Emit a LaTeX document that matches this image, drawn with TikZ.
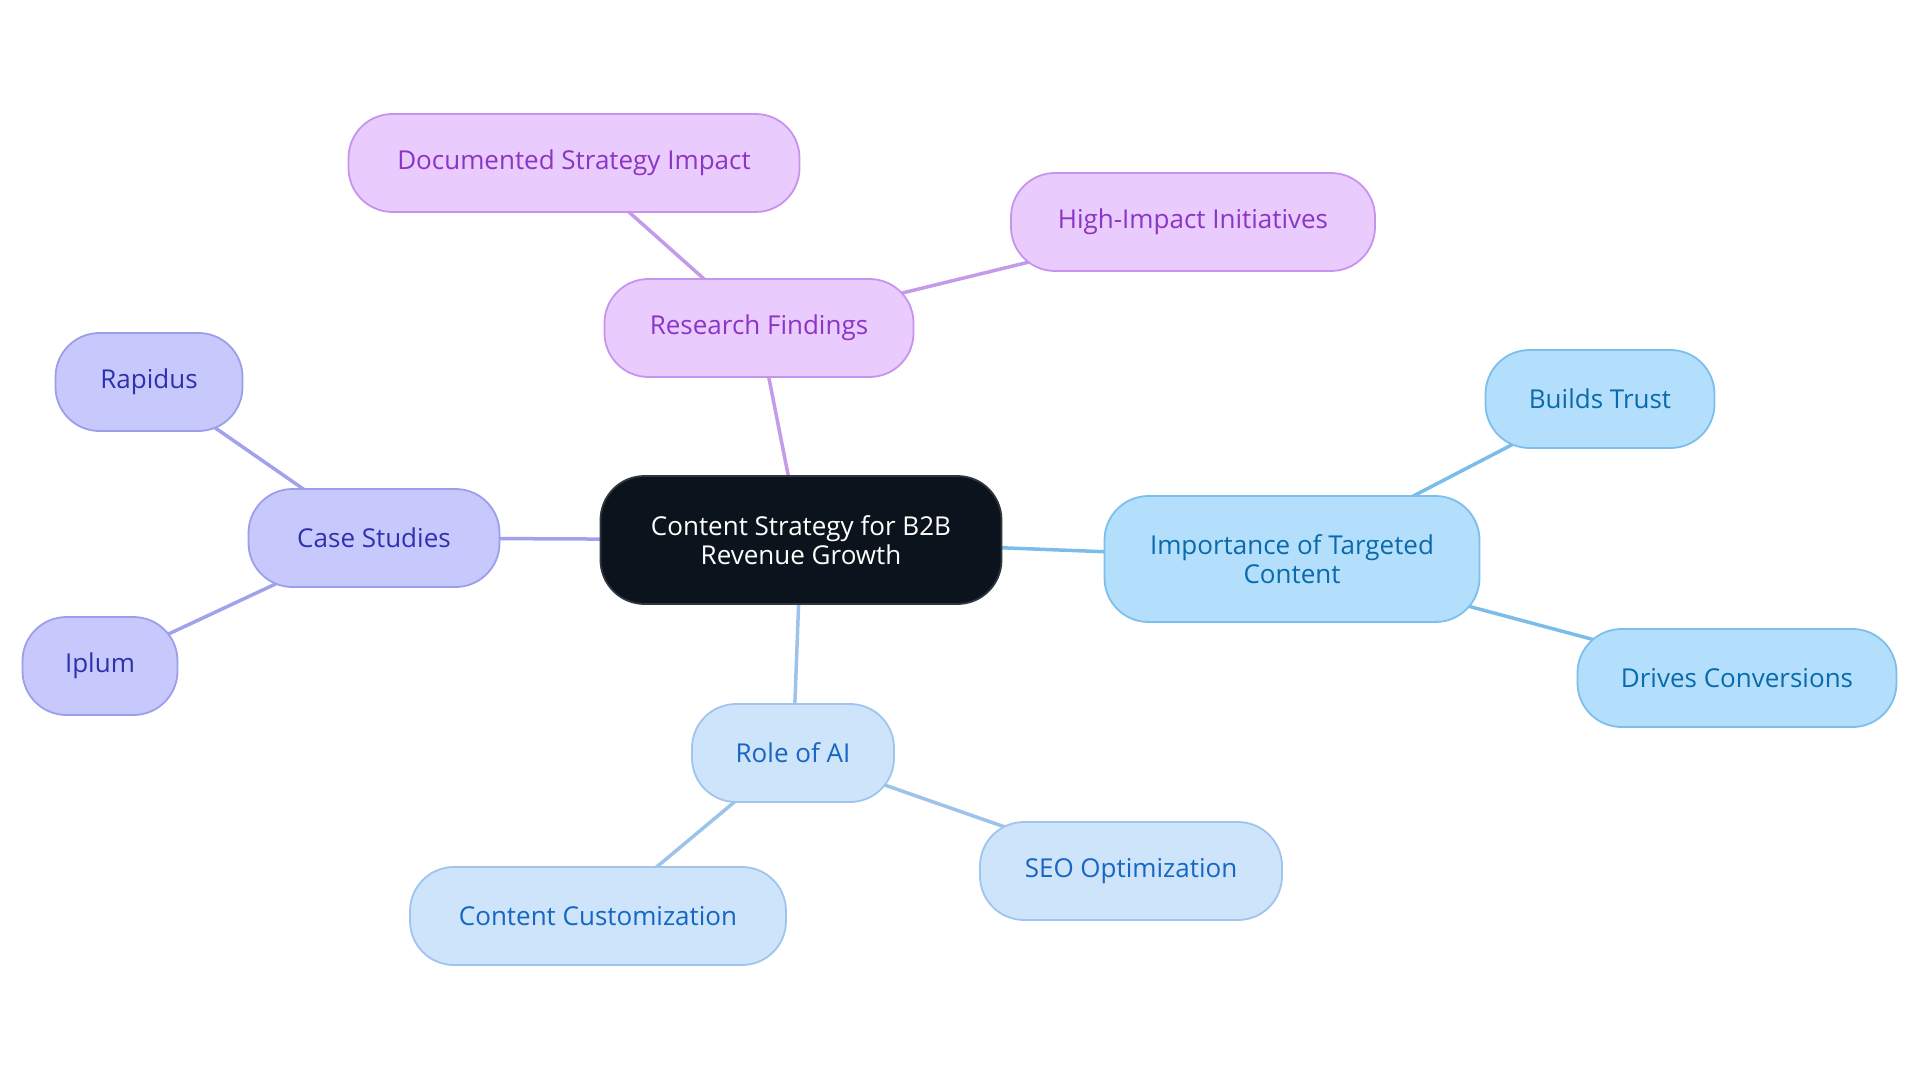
\documentclass[tikz,border=0pt]{standalone}
\usepackage{fontspec}
\setmainfont{Open Sans}
\usetikzlibrary{backgrounds}
\definecolor{cfill}{HTML}{0B141C}
\definecolor{cdraw}{HTML}{30363D}
\definecolor{pfill}{HTML}{E9CBFD}
\definecolor{pdraw}{HTML}{C793EC}
\definecolor{ptext}{HTML}{8B35C6}
\definecolor{pline}{HTML}{C49BE9}
\definecolor{ifill}{HTML}{C7C9FD}
\definecolor{idraw}{HTML}{9C9EEA}
\definecolor{itext}{HTML}{2E31AE}
\definecolor{iline}{HTML}{A0A3EC}
\definecolor{lfill}{HTML}{CDE4FB}
\definecolor{ldraw}{HTML}{9FC4EE}
\definecolor{ltext}{HTML}{1666C2}
\definecolor{lline}{HTML}{9EC3EA}
\definecolor{sfill}{HTML}{B3DFFD}
\definecolor{sdraw}{HTML}{7DBEEA}
\definecolor{stext}{HTML}{0A6AAA}
\definecolor{sline}{HTML}{7BBDE8}
\tikzset{
  box/.style={rounded corners=44pt, line width=1.8pt, align=center, inner sep=0pt,
    font=\fontsize{26}{29}\selectfont},
  central/.style={box, fill=cfill, draw=cdraw, text=white},
  purp/.style={box, fill=pfill, draw=pdraw, text=ptext},
  indi/.style={box, fill=ifill, draw=idraw, text=itext},
  lblue/.style={box, fill=lfill, draw=ldraw, text=ltext},
  sky/.style={box, fill=sfill, draw=sdraw, text=stext},
  conn/.style={line width=3.5pt}
}
\begin{document}
\begin{tikzpicture}[x=1pt,y=-1pt]
\useasboundingbox (0,0) rectangle (1920,1083);
\node[central, minimum width=401pt, minimum height=128pt] (c) at (801,540) {Content Strategy for B2B\\Revenue Growth};
\node[purp, minimum width=309pt, minimum height=98pt] (rf) at (759,328) {Research Findings};
\node[purp, minimum width=451pt, minimum height=98pt] (ds) at (574,163) {Documented Strategy Impact};
\node[purp, minimum width=364pt, minimum height=98pt] (hi) at (1193,222) {High-Impact Initiatives};
\node[indi, minimum width=251pt, minimum height=98pt] (cs) at (374,538) {Case Studies};
\node[indi, minimum width=187pt, minimum height=98pt] (ra) at (149,382) {Rapidus};
\node[indi, minimum width=155pt, minimum height=98pt] (ip) at (100,666) {Iplum};
\node[sky, minimum width=375pt, minimum height=126pt] (it) at (1292,559) {Importance of Targeted\\Content};
\node[sky, minimum width=229pt, minimum height=98pt] (bt) at (1600,399) {Builds Trust};
\node[sky, minimum width=319pt, minimum height=98pt] (dc) at (1737,678) {Drives Conversions};
\node[lblue, minimum width=202pt, minimum height=98pt] (ai) at (793,753) {Role of AI};
\node[lblue, minimum width=302pt, minimum height=98pt] (seo) at (1131,871) {SEO Optimization};
\node[lblue, minimum width=376pt, minimum height=98pt] (cc) at (598,916) {Content Customization};
\begin{scope}[on background layer]
\draw[conn, pline] (c.center) -- (rf.center);
\draw[conn, pline] (rf.center) -- (ds.center);
\draw[conn, pline] (rf.center) -- (hi.center);
\draw[conn, iline] (c.center) -- (cs.center);
\draw[conn, iline] (cs.center) -- (ra.center);
\draw[conn, iline] (cs.center) -- (ip.center);
\draw[conn, sline] (c.center) -- (it.center);
\draw[conn, sline] (it.center) -- (bt.center);
\draw[conn, sline] (it.center) -- (dc.center);
\draw[conn, lline] (c.center) -- (ai.center);
\draw[conn, lline] (ai.center) -- (seo.center);
\draw[conn, lline] (ai.center) -- (cc.center);
\end{scope}
\end{tikzpicture}
\end{document}
